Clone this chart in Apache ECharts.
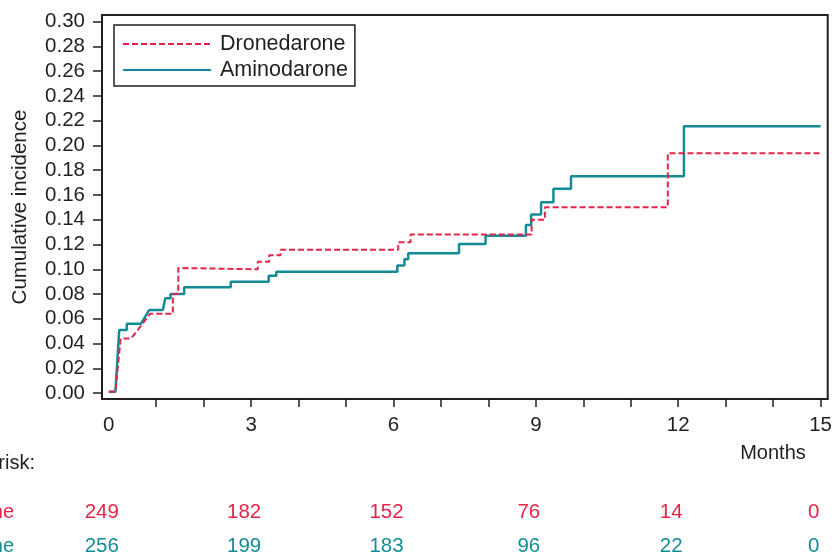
<!DOCTYPE html>
<html><head><meta charset="utf-8">
<script src="https://cdn.jsdelivr.net/npm/echarts@6/dist/echarts.min.js"></script>
<style>html,body{margin:0;padding:0;background:#fff}#c{width:835px;height:556px}</style>
</head><body><div id="c"></div>
<script>
const seriesNames = ['Dronedarone', 'Aminodarone'];
const dronedarone = [[0,0.001],[0.14,0.001],[0.25,0.044],[0.47,0.044],[0.87,0.064],[1.35,0.064],[1.35,0.080],[1.465,0.080],[1.465,0.101],[3.14,0.100],[3.14,0.106],[3.38,0.106],[3.38,0.1113],[3.62,0.1113],[3.62,0.1157],[6.10,0.1157],[6.10,0.1218],[6.36,0.1218],[6.36,0.128],[8.91,0.128],[8.91,0.140],[9.19,0.140],[9.19,0.150],[11.78,0.150],[11.78,0.1937],[15.0,0.1937]];
const amiodarone = [[0,0.001],[0.14,0.001],[0.22,0.051],[0.38,0.051],[0.38,0.056],[0.68,0.056],[0.85,0.067],[1.14,0.067],[1.19,0.0766],[1.30,0.0766],[1.30,0.080],[1.59,0.080],[1.59,0.0855],[2.57,0.0855],[2.57,0.090],[3.37,0.090],[3.37,0.0947],[3.53,0.0947],[3.53,0.098],[6.08,0.098],[6.08,0.103],[6.23,0.103],[6.23,0.108],[6.31,0.108],[6.31,0.113],[7.38,0.113],[7.38,0.1205],[7.94,0.1205],[7.94,0.127],[8.79,0.127],[8.79,0.1357],[8.90,0.1357],[8.90,0.1443],[9.11,0.1443],[9.11,0.1542],[9.37,0.1542],[9.37,0.165],[9.74,0.165],[9.74,0.1752],[12.12,0.1752],[12.12,0.2155],[15.0,0.2155]];
const yTicks = [0,0.02,0.04,0.06,0.08,0.10,0.12,0.14,0.16,0.18,0.20,0.22,0.24,0.26,0.28,0.30];
const xTicks = [1,2,3,4,5,6,7,8,9,10,11,12,13,14,15];
const xLabels = [0,3,6,9,12,15];
const riskMonths = [0,3,6,9,12,15];
const riskDronedarone = [249,182,152,76,14,0];
const riskAmiodarone = [256,199,183,96,22,0];
const riskRowLabels = ['Dronedarone','Amiodarone'];
const riskTitle = 'Number at risk:';
const yName = 'Cumulative incidence';
const xName = 'Months';

const RED = '#E4254A', TEAL = '#138C97', INK = '#231F20';
const FONT = "'Liberation Sans', Arial, Helvetica, sans-serif";

const chart = echarts.init(document.getElementById('c'), null, {renderer:'canvas'});
chart.setOption({
  animation:false,
  backgroundColor:'#fff',
  grid:{left:102, top:15, width:728, height:384, show:true, borderColor:INK, borderWidth:2, backgroundColor:'transparent'},
  legend:{
    left:114, top:25, orient:'vertical', padding:[8,7,5,8],
    borderColor:INK, borderWidth:1.5, itemWidth:88, itemHeight:14, itemGap:4,
    itemStyle:{opacity:0},
    data:seriesNames,
    textStyle:{fontFamily:FONT, fontSize:21.5, color:INK, lineHeight:20, padding:[0,0,0,4]}
  },
  xAxis:{
    type:'value', min:-0.143, max:15.15,
    axisLine:{show:true, onZero:false, lineStyle:{color:INK, width:2}},
    axisTick:{show:true, length:8, inside:false, customValues:xTicks, lineStyle:{color:INK, width:1.5}},
    axisLabel:{customValues:xLabels, margin:16, fontFamily:FONT, fontSize:20.5, color:INK},
    splitLine:{show:false}
  },
  yAxis:{
    type:'value', min:-0.0048, max:0.3054,
    name:yName, nameLocation:'middle', nameGap:71,
    nameTextStyle:{fontFamily:FONT, fontSize:20.5, color:INK},
    axisLine:{show:true, onZero:false, lineStyle:{color:INK, width:2}},
    axisTick:{show:true, length:9, customValues:yTicks, lineStyle:{color:INK, width:1.5}},
    axisLabel:{customValues:yTicks, margin:17, fontFamily:FONT, fontSize:20.5, color:INK, formatter:v=>v.toFixed(2)},
    splitLine:{show:false}
  },
  series:[
    {name:seriesNames[0], type:'line', data:dronedarone, symbol:'none', showSymbol:false, color:RED,
     lineStyle:{color:RED, width:2, type:[6,3]}, z:3},
    {name:seriesNames[1], type:'line', data:amiodarone, symbol:'none', showSymbol:false, color:TEAL,
     lineStyle:{color:TEAL, width:2.5, type:'solid'}, z:2}
  ]
});

const g = [];
g.push({type:'text', x:35, y:463, style:{text:riskTitle, font:'20px '+FONT, fill:INK, align:'right', verticalAlign:'middle'}});
g.push({type:'text', x:773, y:453, style:{text:xName, font:'20px '+FONT, fill:INK, align:'center', verticalAlign:'middle'}});
const rows = [[riskDronedarone, RED, 512], [riskAmiodarone, TEAL, 546]];
rows.forEach(([vals, col, y], ri) => {
  g.push({type:'text', x:14, y:y, style:{text:riskRowLabels[ri], font:'20px '+FONT, fill:col, align:'right', verticalAlign:'middle'}});
  vals.forEach((v, i) => {
    const px = chart.convertToPixel({xAxisIndex:0}, riskMonths[i]) - 7;
    g.push({type:'text', x:px, y:y, style:{text:String(v), font:'20.5px '+FONT, fill:col, align:'center', verticalAlign:'middle'}});
  });
});
chart.setOption({graphic:g});
</script></body></html>
